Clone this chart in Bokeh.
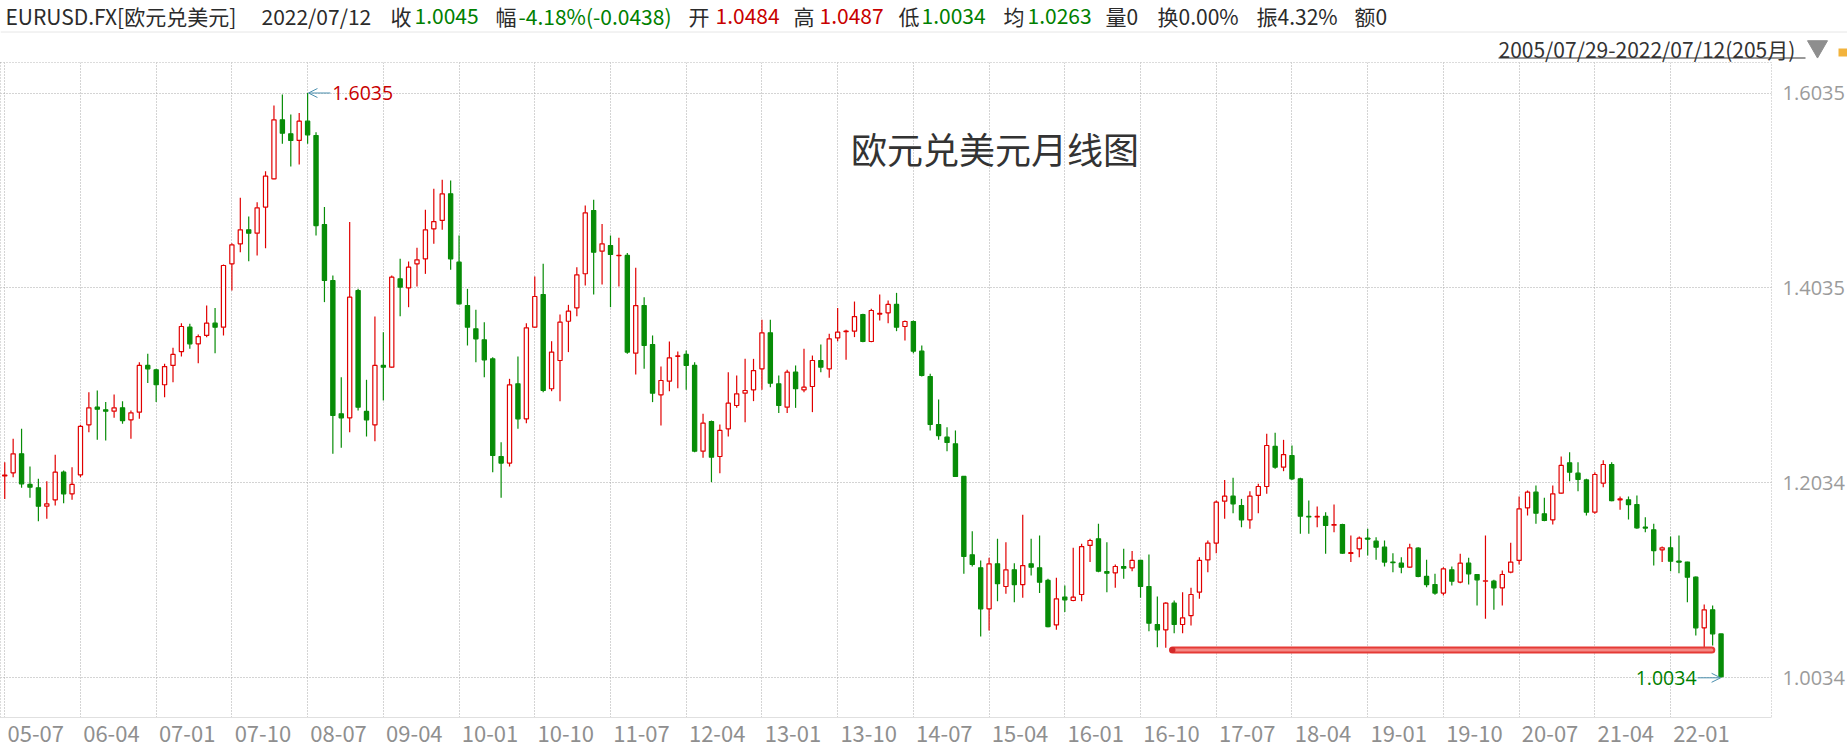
from bokeh.plotting import figure
from bokeh.models import (ColumnDataSource, Range1d, LinearAxis, FixedTicker,
                          PrintfTickFormatter, Arrow, OpenHead)
from bokeh.core.properties import value
from bokeh.embed import file_html
from bokeh.resources import INLINE

# ---------------- data (monthly EUR/USD, 2005-07 .. 2022-07) ----------------
opens = [
    1.2105, 1.2137, 1.2332, 1.2018, 1.1983, 1.1795, 1.1860, 1.2144, 1.1922, 1.2117,
    1.2630, 1.2811, 1.2784, 1.2770, 1.2804, 1.2681, 1.2760, 1.3239, 1.3194, 1.3041,
    1.3239, 1.3382, 1.3632, 1.3461, 1.3547, 1.3673, 1.3632, 1.4282, 1.4487, 1.4631,
    1.4597, 1.4864, 1.5154, 1.5760, 1.5616, 1.5548, 1.5746, 1.5599, 1.4685, 1.4111,
    1.2743, 1.2702, 1.4008, 1.2767, 1.2630, 1.3239, 1.3222, 1.4128, 1.4036, 1.4282,
    1.4333, 1.4641, 1.4727, 1.5000, 1.4299, 1.3854, 1.3615, 1.3502, 1.3307, 1.2305,
    1.2237, 1.3051, 1.2692, 1.3632, 1.3967, 1.3000, 1.3290, 1.3693, 1.3831, 1.4180,
    1.4829, 1.4412, 1.4470, 1.4365, 1.4368, 1.3365, 1.3854, 1.3454, 1.2938, 1.3078,
    1.3333, 1.3352, 1.3239, 1.2360, 1.2664, 1.2305, 1.2589, 1.2828, 1.2955, 1.2989,
    1.3205, 1.3574, 1.3051, 1.2811, 1.3170, 1.2989, 1.3023, 1.3290, 1.3205, 1.3522,
    1.3585, 1.3591, 1.3762, 1.3485, 1.3766, 1.3779, 1.3865, 1.3639, 1.3690, 1.3386,
    1.3126, 1.2633, 1.2503, 1.2435, 1.2100, 1.1296, 1.1163, 1.0742, 1.1204, 1.0971,
    1.1142, 1.0991, 1.1204, 1.1163, 1.1033, 1.0577, 1.0862, 1.0827, 1.0889, 1.1392,
    1.1460, 1.1125, 1.1111, 1.1176, 1.1163, 1.1238, 1.0971, 1.0581, 1.0526, 1.0800,
    1.0581, 1.0673, 1.0913, 1.1244, 1.1416, 1.1846, 1.1898, 1.1802, 1.1655, 1.1905,
    1.1997, 1.2408, 1.2195, 1.2314, 1.2076, 1.1690, 1.1685, 1.1690, 1.1600, 1.1607,
    1.1310, 1.1357, 1.1467, 1.1436, 1.1374, 1.1221, 1.1210, 1.1169, 1.1364, 1.1074,
    1.0991, 1.0903, 1.1142, 1.1016, 1.1210, 1.1094, 1.1026, 1.1026, 1.0957, 1.1118,
    1.1238, 1.1778, 1.1939, 1.1717, 1.1655, 1.1929, 1.2240, 1.2134, 1.2065, 1.1734,
    1.2031, 1.2223, 1.1860, 1.1860, 1.1812, 1.1580, 1.1552, 1.1347, 1.1368, 1.1231,
    1.1221, 1.1067, 1.0547, 1.0731, 1.0484]

highs = [
    1.2247, 1.2486, 1.2589, 1.2202, 1.2076, 1.2052, 1.2322, 1.2161, 1.2195, 1.2630,
    1.2965, 1.2982, 1.2863, 1.2941, 1.2873, 1.2777, 1.3273, 1.3358, 1.3205, 1.3256,
    1.3420, 1.3673, 1.3666, 1.3557, 1.3854, 1.3830, 1.4275, 1.4494, 1.4959, 1.4768,
    1.4915, 1.5233, 1.5907, 1.6020, 1.5814, 1.5831, 1.6035, 1.5633, 1.4864, 1.4162,
    1.3119, 1.4710, 1.4025, 1.3092, 1.3742, 1.3581, 1.4162, 1.4333, 1.4306, 1.4446,
    1.4836, 1.5052, 1.5144, 1.5137, 1.4573, 1.4025, 1.3810, 1.3683, 1.3324, 1.2452,
    1.3102, 1.3331, 1.3673, 1.4152, 1.4282, 1.3488, 1.3762, 1.3861, 1.4248, 1.4881,
    1.4939, 1.4692, 1.4573, 1.4549, 1.4392, 1.4241, 1.3940, 1.3547, 1.3228, 1.3485,
    1.3382, 1.3393, 1.3273, 1.2743, 1.2674, 1.2633, 1.3170, 1.3136, 1.3307, 1.3307,
    1.3707, 1.3707, 1.3136, 1.3194, 1.3239, 1.3410, 1.3341, 1.3454, 1.3564, 1.3830,
    1.3605, 1.3895, 1.3769, 1.3820, 1.3967, 1.3906, 1.3984, 1.3701, 1.3701, 1.3444,
    1.3153, 1.2890, 1.2606, 1.2572, 1.2105, 1.1539, 1.1238, 1.1265, 1.1460, 1.1426,
    1.1210, 1.1706, 1.1460, 1.1494, 1.1050, 1.1060, 1.0981, 1.1368, 1.1409, 1.1460,
    1.1614, 1.1426, 1.1197, 1.1357, 1.1334, 1.1245, 1.1299, 1.0868, 1.0810, 1.0827,
    1.0913, 1.0957, 1.1272, 1.1443, 1.1853, 1.2065, 1.2086, 1.1870, 1.1949, 1.2024,
    1.2538, 1.2548, 1.2476, 1.2418, 1.2086, 1.1853, 1.1792, 1.1734, 1.1812, 1.1614,
    1.1494, 1.1484, 1.1563, 1.1477, 1.1443, 1.1313, 1.1272, 1.1409, 1.1374, 1.1245,
    1.1101, 1.1169, 1.1176, 1.1306, 1.1265, 1.1097, 1.1494, 1.1039, 1.1135, 1.1419,
    1.1894, 1.1956, 1.2007, 1.1881, 1.2007, 1.2305, 1.2349, 1.2247, 1.2076, 1.2144,
    1.2266, 1.2247, 1.1894, 1.1894, 1.1905, 1.1682, 1.1614, 1.1381, 1.1484, 1.1494,
    1.1224, 1.1074, 1.0786, 1.0776, 1.0487]

lows = [
    1.1870, 1.2093, 1.1983, 1.1881, 1.1641, 1.1665, 1.1802, 1.1826, 1.1860, 1.2093,
    1.2555, 1.2476, 1.2469, 1.2702, 1.2640, 1.2486, 1.2691, 1.3058, 1.2863, 1.2914,
    1.3068, 1.3331, 1.3410, 1.3263, 1.3529, 1.3365, 1.3547, 1.4008, 1.4402, 1.4309,
    1.4368, 1.4443, 1.5150, 1.5513, 1.5281, 1.5301, 1.5513, 1.4573, 1.3889, 1.2332,
    1.2394, 1.2555, 1.2777, 1.2510, 1.2462, 1.2880, 1.3215, 1.3745, 1.3837, 1.4049,
    1.4179, 1.4487, 1.4631, 1.4220, 1.3865, 1.3444, 1.3273, 1.3119, 1.2144, 1.1881,
    1.2202, 1.2589, 1.2647, 1.3625, 1.2965, 1.2975, 1.2873, 1.3376, 1.3745, 1.4060,
    1.3967, 1.4070, 1.3837, 1.4049, 1.3359, 1.3146, 1.3205, 1.2863, 1.2623, 1.2975,
    1.3006, 1.2989, 1.2349, 1.2291, 1.2042, 1.2134, 1.2510, 1.2804, 1.2657, 1.2873,
    1.2989, 1.3016, 1.2750, 1.2750, 1.2804, 1.2965, 1.2760, 1.3170, 1.3112, 1.3488,
    1.3297, 1.3530, 1.3478, 1.3478, 1.3701, 1.3673, 1.3591, 1.3495, 1.3365, 1.3126,
    1.2572, 1.2476, 1.2360, 1.2100, 1.1101, 1.1176, 1.0458, 1.0519, 1.0820, 1.0896,
    1.0810, 1.0855, 1.1084, 1.0903, 1.0553, 1.0526, 1.0708, 1.0820, 1.0820, 1.1221,
    1.1118, 1.0913, 1.0957, 1.1050, 1.1128, 1.0855, 1.0512, 1.0348, 1.0342, 1.0492,
    1.0492, 1.0571, 1.0844, 1.1118, 1.1313, 1.1665, 1.1723, 1.1580, 1.1563, 1.1723,
    1.1922, 1.2178, 1.2154, 1.2065, 1.1511, 1.1511, 1.1580, 1.1306, 1.1528, 1.1306,
    1.1221, 1.1272, 1.1289, 1.1245, 1.1176, 1.1118, 1.1108, 1.1162, 1.1067, 1.0964,
    1.0885, 1.0879, 1.0981, 1.1005, 1.0991, 1.0776, 1.0639, 1.0732, 1.0776, 1.1108,
    1.1197, 1.1700, 1.1614, 1.1641, 1.1607, 1.1922, 1.2052, 1.1949, 1.1700, 1.1717,
    1.1990, 1.1846, 1.1758, 1.1658, 1.1563, 1.1528, 1.1186, 1.1221, 1.1128, 1.1108,
    1.0810, 1.0468, 1.0331, 1.0365, 1.0034]

closes = [
    1.2115, 1.2332, 1.2024, 1.1990, 1.1795, 1.1819, 1.2144, 1.1922, 1.2018, 1.2613,
    1.2804, 1.2791, 1.2770, 1.2804, 1.2674, 1.2753, 1.3239, 1.3205, 1.3041, 1.3228,
    1.3352, 1.3639, 1.3461, 1.3536, 1.3673, 1.3632, 1.4265, 1.4477, 1.4631, 1.4597,
    1.4857, 1.5182, 1.5760, 1.5623, 1.5548, 1.5746, 1.5606, 1.4675, 1.4111, 1.2726,
    1.2702, 1.3940, 1.2811, 1.2681, 1.3239, 1.3222, 1.4145, 1.4043, 1.4248, 1.4323,
    1.4631, 1.4716, 1.5000, 1.4333, 1.3872, 1.3632, 1.3512, 1.3297, 1.2315, 1.2237,
    1.3040, 1.2692, 1.3625, 1.3947, 1.2982, 1.3376, 1.3683, 1.3796, 1.4169, 1.4805,
    1.4402, 1.4487, 1.4378, 1.4370, 1.3376, 1.3854, 1.3444, 1.2955, 1.3085, 1.3317,
    1.3337, 1.3239, 1.2360, 1.2647, 1.2298, 1.2572, 1.2852, 1.2948, 1.2982, 1.3187,
    1.3574, 1.3057, 1.2828, 1.3170, 1.3000, 1.3016, 1.3290, 1.3222, 1.3512, 1.3581,
    1.3591, 1.3741, 1.3485, 1.3803, 1.3773, 1.3865, 1.3632, 1.3690, 1.3386, 1.3136,
    1.2633, 1.2520, 1.2449, 1.2100, 1.1279, 1.1197, 1.0742, 1.1204, 1.1000, 1.1142,
    1.0991, 1.1186, 1.1169, 1.1015, 1.0560, 1.0844, 1.0834, 1.0861, 1.1381, 1.1443,
    1.1128, 1.1108, 1.1176, 1.1159, 1.1238, 1.0971, 1.0595, 1.0526, 1.0800, 1.0581,
    1.0649, 1.0889, 1.1238, 1.1416, 1.1836, 1.1898, 1.1819, 1.1655, 1.1898, 1.1997,
    1.2418, 1.2195, 1.2325, 1.2076, 1.1693, 1.1685, 1.1690, 1.1597, 1.1606, 1.1313,
    1.1318, 1.1467, 1.1456, 1.1374, 1.1221, 1.1215, 1.1169, 1.1368, 1.1074, 1.0991,
    1.0903, 1.1152, 1.1026, 1.1210, 1.1101, 1.1039, 1.1030, 1.0957, 1.1094, 1.1221,
    1.1768, 1.1939, 1.1723, 1.1648, 1.1922, 1.2213, 1.2144, 1.2069, 1.1734, 1.2120,
    1.2223, 1.1853, 1.1870, 1.1812, 1.1573, 1.1570, 1.1340, 1.1368, 1.1231, 1.1220,
    1.1067, 1.0547, 1.0731, 1.0485, 1.0045]

# x tick labels (every 9 months, first = 2005-07) and price levels on the right
tick_months = [0, 9, 18, 27, 36, 45, 54, 63, 72, 81, 90, 99, 108, 117, 126,
               135, 144, 153, 162, 171, 180, 189, 198]
tick_labels = ["05-07", "06-04", "07-01", "07-10", "08-07", "09-04", "10-01",
               "10-10", "11-07", "12-04", "13-01", "13-10", "14-07", "15-04",
               "16-01", "16-10", "17-07", "18-04", "19-01", "19-10", "20-07",
               "21-04", "22-01"]
price_ticks = [1.0034, 1.2034, 1.4035, 1.6035]

# drawn horizontal support line (month index span, price level)
support_x = [138.8, 202.9]
support_y = [1.032, 1.032]

# header quote line
title_text = "欧元兑美元月线图"
header_name = "EURUSD.FX[欧元兑美元]"
header_date = "2022/07/12"
quote_keys = ["收", "幅", "开", "高", "低", "均"]
quote_vals = ["1.0045", "-4.18%(-0.0438)", "1.0484", "1.0487", "1.0034", "1.0263"]
quote_up = [False, False, True, True, False, False]
extra_fields = ["量0", "换0.00%", "振4.32%", "额0"]
range_text = "2005/07/29-2022/07/12(205月)"

# ---------------- styling / layout constants ----------------
RED = "#e10000"
GREEN = "#078c07"
TXT_RED = "#c80000"
TXT_GREEN = "#008000"
DARK = "#2b2b2b"
CJK = "Noto Sans CJK SC"

PAGE_W, PAGE_H = 1847, 749
HEAD_H = 62
RIGHT_W = 75
BOTTOM_H = 32
FRAME_W = PAGE_W - RIGHT_W
FRAME_H = PAGE_H - HEAD_H - BOTTOM_H
STEP = 8.418          # pixels per month
X0_PX = 4.24          # pixel of the first candle
PX_PER_UNIT = 974.5   # pixels per 1.0 of price
REF_V, REF_PY = 1.6035, 92.5
LABEL_SHIFT = 31.0 / STEP


def px2x(px):
    return (px - X0_PX) / STEP


def py2v(py):
    return REF_V - (py - REF_PY) / PX_PER_UNIT


x_lo, x_hi = px2x(0), px2x(FRAME_W)
y_hi, y_lo = py2v(HEAD_H), py2v(HEAD_H + FRAME_H)

# ---------------- header figure ----------------
h = figure(width=PAGE_W, height=HEAD_H, x_range=Range1d(0, PAGE_W),
           y_range=Range1d(HEAD_H, 0), toolbar_location=None,
           output_backend="svg", x_axis_location=None, y_axis_location=None,
           min_border=0, outline_line_color=None)
h.grid.visible = False

key_x = [390, 495, 688, 793, 898, 1003]
val_x = [414, 518, 715, 819, 921, 1027]
extra_x = [1105, 1157, 1256, 1354]
hx = [5, 261] + key_x + val_x + extra_x
htxt = [header_name, header_date] + quote_keys + quote_vals + extra_fields
hcol = ([DARK, DARK] + [DARK] * len(quote_keys)
        + [TXT_RED if u else TXT_GREEN for u in quote_up] + [DARK] * len(extra_fields))
hsrc = ColumnDataSource(dict(x=hx, y=[15] * len(hx), t=htxt, c=hcol))
h.text(x="x", y="y", text="t", text_color="c", source=hsrc,
       text_font=value(CJK), text_font_size="21px",
       text_baseline="middle", text_align="left")
h.segment(x0=[0], y0=[31.5], x1=[PAGE_W], y1=[31.5], line_color="#e6e6e6", line_width=1)
h.text(x=[1498], y=[48], text=[range_text], text_color="#333333",
       text_font=value(CJK), text_font_size="21px",
       text_baseline="middle", text_align="left")
h.segment(x0=[1498], y0=[57.5], x1=[1805], y1=[57.5], line_color="#333333", line_width=1)
h.scatter(x=[1817], y=[46], marker="inverted_triangle", size=20,
          fill_color="#8e8e8e", line_color="#8e8e8e")
h.rect(x=[1843], y=[52], width=10, height=8, fill_color="#f2b33d", line_color=None)

# ---------------- main candlestick figure ----------------
p = figure(width=PAGE_W, height=PAGE_H - HEAD_H,
           x_range=Range1d(x_lo, x_hi), y_range=Range1d(y_lo, y_hi),
           toolbar_location=None, output_backend="svg",
           x_axis_location=None, y_axis_location=None,
           min_border_left=0, min_border_right=RIGHT_W,
           min_border_top=0, min_border_bottom=BOTTOM_H)
p.outline_line_color = "#b8b8b8"
p.outline_line_dash = "1 2"

p.xgrid.ticker = FixedTicker(ticks=tick_months)
p.ygrid.ticker = FixedTicker(ticks=price_ticks)
p.grid.grid_line_color = "#a8a8a8"
p.grid.grid_line_dash = "1 2"
p.grid.grid_line_width = 1

p.extra_x_ranges = {"lab": Range1d(x_lo - LABEL_SHIFT, x_hi - LABEL_SHIFT)}
xax = LinearAxis(x_range_name="lab", ticker=FixedTicker(ticks=tick_months),
                 major_label_overrides={m: l for m, l in zip(tick_months, tick_labels)},
                 major_tick_line_color=None, minor_tick_line_color=None,
                 axis_line_color="#e0e0e0", major_label_standoff=2,
                 major_label_text_font=CJK, major_label_text_font_size="22px",
                 major_label_text_color="#8f8f8f")
p.add_layout(xax, "below")

yax = LinearAxis(ticker=FixedTicker(ticks=price_ticks),
                 formatter=PrintfTickFormatter(format="%.4f"),
                 major_tick_line_color=None, minor_tick_line_color=None,
                 axis_line_color=None, major_label_standoff=5,
                 major_label_text_font="Open Sans", major_label_text_font_size="20px",
                 major_label_text_color="#9b9b9b")
p.add_layout(yax, "right")

N = len(opens)
up = [c >= o for o, c in zip(opens, closes)]
src = ColumnDataSource(dict(
    x=list(range(N)), o=opens, h=highs, l=lows, c=closes,
    top=[max(o, c) for o, c in zip(opens, closes)],
    bot=[min(o, c) for o, c in zip(opens, closes)],
    col=[RED if u else GREEN for u in up],
    fill=["white" if u else GREEN for u in up]))
p.segment(x0="x", y0="l", x1="x", y1="h", source=src, line_color="col", line_width=1.2)
p.vbar(x="x", width=0.5, top="top", bottom="bot", source=src,
       fill_color="fill", line_color="col", line_width=1.2)

# title
p.text(x=[px2x(851)], y=[py2v(147)], text=[title_text], text_color="#333333",
       text_font=value(CJK), text_font_size="36px",
       text_baseline="middle", text_align="left")

# support line drawn on chart
p.line(support_x, support_y, line_color="#e53b36", line_width=7, line_cap="round")
p.line(support_x, support_y, line_color="#f48a85", line_width=3, line_cap="round")
p.scatter(x=[support_x[0]], y=[support_y[0]], size=6, fill_color="#d42a2a", line_color=None)

# high / low markers
ARROW = "#4a8fae"
hi_i = highs.index(max(highs))
lo_i = lows.index(min(lows))
hi_v, lo_v = highs[hi_i], lows[lo_i]
p.add_layout(Arrow(end=OpenHead(size=9, line_color=ARROW, line_width=1),
                   x_start=hi_i + 22.7 / STEP, y_start=hi_v, x_end=hi_i + 0.1, y_end=hi_v,
                   line_color=ARROW, line_width=1))
p.text(x=[hi_i + 24.7 / STEP], y=[hi_v], text=["%.4f" % hi_v], text_color=TXT_RED,
       text_font=value("Open Sans"), text_font_size="19.5px",
       text_baseline="middle", text_align="left")
p.add_layout(Arrow(end=OpenHead(size=9, line_color=ARROW, line_width=1),
                   x_start=lo_i - 23.5 / STEP, y_start=lo_v, x_end=lo_i - 0.05, y_end=lo_v,
                   line_color=ARROW, line_width=1))
p.text(x=[lo_i - 24.5 / STEP], y=[lo_v], text=["%.4f" % lo_v], text_color=TXT_GREEN,
       text_font=value("Open Sans"), text_font_size="19.5px",
       text_baseline="middle", text_align="right")

open("out.html", "w").write(file_html([h, p], INLINE))
